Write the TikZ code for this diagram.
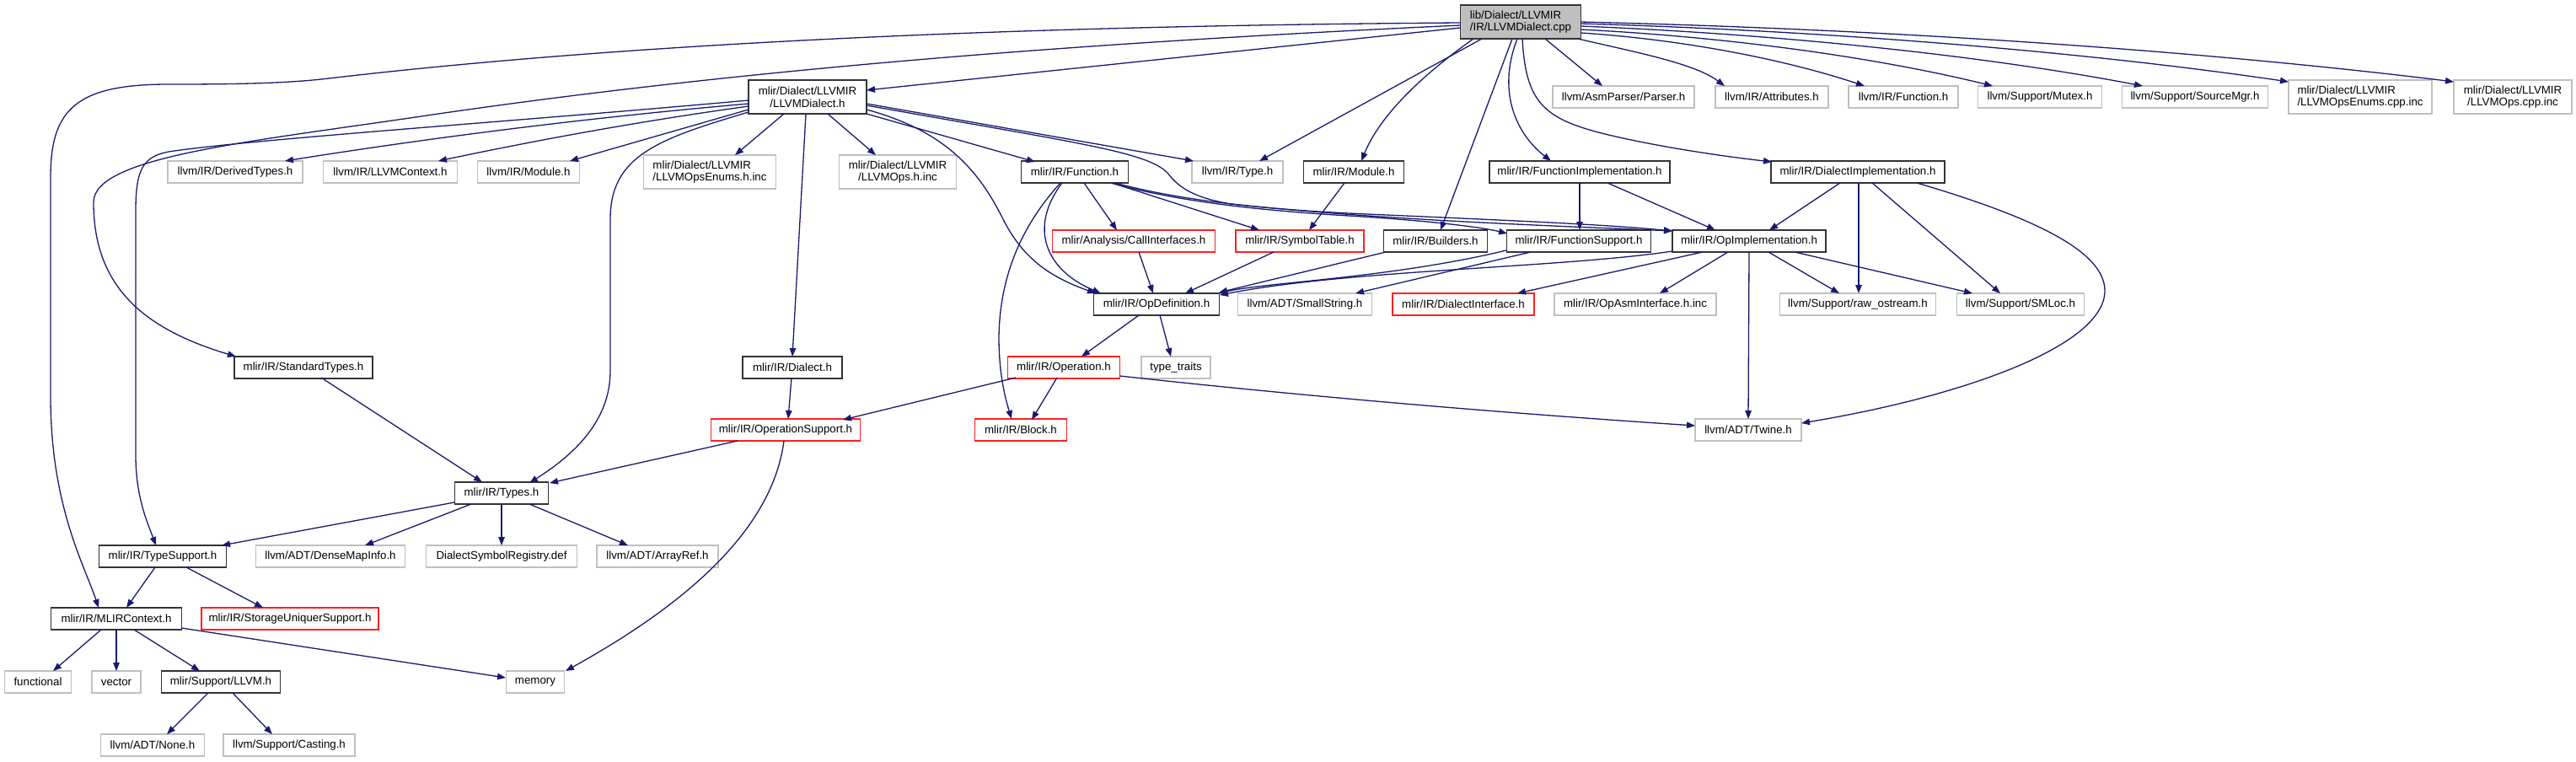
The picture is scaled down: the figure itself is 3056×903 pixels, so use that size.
\documentclass[tikz,border=0pt]{standalone}
\usepackage{fontspec}
\setmainfont{Liberation Sans}
\usetikzlibrary{arrows.meta}
\definecolor{edgeblue}{HTML}{191970}
\definecolor{boxgray}{HTML}{BFBFBF}
\definecolor{boxred}{HTML}{FF2020}
\newcommand{\edg}[4]{\draw[edge] ([shift={(#2)}]#1.center) -- ([shift={(#4)}]#3.center);}
\tikzset{
 nd/.style={rectangle, inner sep=0pt, line width=1.5pt, font=\fontsize{13.3}{14.6}\selectfont, align=center, fill=white, minimum height=26pt},
 blk/.style={nd, draw=black!80},
 gry/.style={nd, draw=boxgray},
 rdb/.style={nd, draw=boxred},
 rootbox/.style={nd, draw=black!80, fill=boxgray},
 edge/.style={draw=edgeblue, line width=1.3pt, -{Triangle[length=10pt,width=7.5pt]}},
}
\begin{document}
\begin{tikzpicture}[x=1pt,y=-1pt]
\useasboundingbox (0,0) rectangle (3056,903);
% ---------- nodes ----------
\node[rootbox, minimum width=143pt, minimum height=40pt, align=left] (cpp) at (1804,26) {lib/Dialect/LLVMIR\\/IR/LLVMDialect.cpp};
\node[blk, minimum width=140pt, minimum height=40pt] (ldh) at (958,115) {mlir/Dialect/LLVMIR\\/LLVMDialect.h};
\node[gry, minimum width=168pt] (parser) at (1926,115) {llvm/AsmParser/Parser.h};
\node[gry, minimum width=134pt] (attr) at (2102,115) {llvm/IR/Attributes.h};
\node[gry, minimum width=130pt] (lfunc) at (2258,115) {llvm/IR/Function.h};
\node[gry, minimum width=147pt] (mutex) at (2420,115) {llvm/Support/Mutex.h};
\node[gry, minimum width=173pt] (srcmgr) at (2604,115) {llvm/Support/SourceMgr.h};
\node[gry, minimum width=170pt, minimum height=40pt, align=left] (enumscpp) at (2800,115) {mlir/Dialect/LLVMIR\\/LLVMOpsEnums.cpp.inc};
\node[gry, minimum width=140pt, minimum height=40pt] (opscpp) at (2981,115) {mlir/Dialect/LLVMIR\\/LLVMOps.cpp.inc};

\node[gry, minimum width=160pt] (derived) at (279,204) {llvm/IR/DerivedTypes.h};
\node[gry, minimum width=159pt] (llctx) at (463,204) {llvm/IR/LLVMContext.h};
\node[gry, minimum width=121pt] (llmod) at (627,204) {llvm/IR/Module.h};
\node[gry, minimum width=157pt, minimum height=40pt, align=left] (opsenumh) at (842,204) {mlir/Dialect/LLVMIR\\/LLVMOpsEnums.h.inc};
\node[gry, minimum width=139pt, minimum height=40pt] (opsh) at (1065,204) {mlir/Dialect/LLVMIR\\/LLVMOps.h.inc};
\node[blk, minimum width=127pt] (func) at (1275,204) {mlir/IR/Function.h};
\node[gry, minimum width=108pt] (type) at (1468,204) {llvm/IR/Type.h};
\node[blk, minimum width=119pt] (mod) at (1606,204) {mlir/IR/Module.h};
\node[blk, minimum width=214pt] (fimpl) at (1874,204) {mlir/IR/FunctionImplementation.h};
\node[blk, minimum width=206pt] (dimpl) at (2204,204) {mlir/IR/DialectImplementation.h};

\node[rdb, minimum width=193pt] (callif) at (1345,286) {mlir/Analysis/CallInterfaces.h};
\node[rdb, minimum width=152pt] (symtab) at (1542,286) {mlir/IR/SymbolTable.h};
\node[blk, minimum width=123pt] (builders) at (1703,286) {mlir/IR/Builders.h};
\node[blk, minimum width=171pt] (fsupp) at (1873,286) {mlir/IR/FunctionSupport.h};
\node[blk, minimum width=182pt] (opimpl) at (2075,286) {mlir/IR/OpImplementation.h};

\node[blk, minimum width=149pt] (opdef) at (1372,361) {mlir/IR/OpDefinition.h};
\node[gry, minimum width=159pt] (smallstr) at (1548,361) {llvm/ADT/SmallString.h};
\node[rdb, minimum width=168pt] (dialif) at (1736,361) {mlir/IR/DialectInterface.h};
\node[gry, minimum width=192pt] (asmif) at (1940,361) {mlir/IR/OpAsmInterface.h.inc};
\node[gry, minimum width=185pt] (rawos) at (2204,361) {llvm/Support/raw\_ostream.h};
\node[gry, minimum width=151pt] (smloc) at (2397,361) {llvm/Support/SMLoc.h};

\node[blk, minimum width=164pt] (stdtypes) at (360,436) {mlir/IR/StandardTypes.h};
\node[blk, minimum width=118pt] (dialect) at (940,436) {mlir/IR/Dialect.h};
\node[rdb, minimum width=133pt] (operation) at (1262,436) {mlir/IR/Operation.h};
\node[gry, minimum width=82pt] (traits) at (1395,436) {type\_traits};

\node[rdb, minimum width=177pt] (opsupp) at (932,510) {mlir/IR/OperationSupport.h};
\node[rdb, minimum width=109pt] (block) at (1211,510) {mlir/IR/Block.h};
\node[gry, minimum width=126pt] (twine) at (2074,510) {llvm/ADT/Twine.h};

\node[blk, minimum width=111pt] (types) at (595,585) {mlir/IR/Types.h};

\node[blk, minimum width=151pt] (typesupp) at (193,660) {mlir/IR/TypeSupport.h};
\node[gry, minimum width=177pt] (densemap) at (392,660) {llvm/ADT/DenseMapInfo.h};
\node[gry, minimum width=179pt] (dsreg) at (595,660) {DialectSymbolRegistry.def};
\node[gry, minimum width=144pt] (arrayref) at (780,660) {llvm/ADT/ArrayRef.h};

\node[blk, minimum width=155pt] (mlirctx) at (138,734) {mlir/IR/MLIRContext.h};
\node[rdb, minimum width=210pt] (storage) at (344,734) {mlir/IR/StorageUniquerSupport.h};

\node[gry, minimum width=79pt] (functional) at (45,809) {functional};
\node[gry, minimum width=58pt] (vector) at (138,809) {vector};
\node[blk, minimum width=141pt] (llvmh) at (262,809) {mlir/Support/LLVM.h};
\node[gry, minimum width=69pt] (memory) at (635,809) {memory};

\node[gry, minimum width=123pt] (none) at (181,884) {llvm/ADT/None.h};
\node[gry, minimum width=156pt] (casting) at (343,884) {llvm/Support/Casting.h};

% ---------- edges from LLVMDialect.cpp ----------
\draw[edge] ([shift={(-71.5,1)}]cpp.center) .. controls (1300,30) and (800,45) .. (390,93)
  .. controls (340,99) and (280,100) .. (200,100) .. controls (90,100) and (60,130) .. (60,210)
  -- (60,470) .. controls (60,600) and (100,670) .. ([shift={(-21,-13)}]mlirctx.center);
\draw[edge] ([shift={(-71.5,4)}]cpp.center) .. controls (1300,50) and (900,80) .. (520,135)
  .. controls (300,168) and (111,185) .. (111,240) .. controls (111,340) and (170,390) .. ([shift={(-80,-13)}]stdtypes.center);
\edg{cpp}{-71.5,7}{ldh}{70,-8}
\edg{cpp}{-46,20}{type}{26,-13}
\draw[edge] ([shift={(-56,20)}]cpp.center) .. controls (1700,80) and (1640,130) .. ([shift={(9,-13)}]mod.center);
\edg{cpp}{-10,20}{builders}{6,-13}
\draw[edge] ([shift={(-4,20)}]cpp.center) .. controls (1775,110) and (1800,160) .. ([shift={(-34,-13)}]fimpl.center);
\draw[edge] ([shift={(2,20)}]cpp.center) .. controls (1810,120) and (1830,140) .. (1900,158)
  .. controls (1960,173) and (2040,185) .. ([shift={(-102,-12)}]dimpl.center);
\edg{cpp}{29,20}{parser}{-25,-13}
\draw[edge] ([shift={(68,20)}]cpp.center) .. controls (1940,62) and (2010,75) .. ([shift={(-56,-13)}]attr.center);
\draw[edge] ([shift={(71.5,13)}]cpp.center) .. controls (2010,48) and (2128,74) .. ([shift={(-46,-13)}]lfunc.center);
\draw[edge] ([shift={(71.5,9)}]cpp.center) .. controls (2071,45) and (2242,72) .. ([shift={(-56,-13)}]mutex.center);
\draw[edge] ([shift={(71.5,5)}]cpp.center) .. controls (2142,42) and (2375,70) .. ([shift={(-62,-13)}]srcmgr.center);
\draw[edge] ([shift={(71.5,2)}]cpp.center) .. controls (2211,38) and (2505,66) .. ([shift={(-85,-18)}]enumscpp.center);
\draw[edge] ([shift={(71.5,0)}]cpp.center) .. controls (2290,36) and (2652,65) .. ([shift={(-70,-18)}]opscpp.center);

% ---------- edges from LLVMDialect.h ----------
\draw[edge] ([shift={(-70,8)}]ldh.center) .. controls (705,139) and (520,162) .. ([shift={(59,-13)}]derived.center);
\draw[edge] ([shift={(-70,11)}]ldh.center) .. controls (765,143) and (643,165) .. ([shift={(57,-13)}]llctx.center);
\edg{ldh}{-70,15}{llmod}{49,-13}
\edg{ldh}{-28,20}{opsenumh}{30,-20}
\edg{ldh}{24,20}{opsh}{-26,-20}
\edg{ldh}{-2,20}{dialect}{0,-13}
\draw[edge] ([shift={(-70,4)}]ldh.center) .. controls (600,145) and (300,165) .. (200,180)
  .. controls (170,186) and (161,200) .. (161,250) -- (161,540) .. controls (161,590) and (175,620) .. ([shift={(-8,-13)}]typesupp.center);
\draw[edge] ([shift={(-70,18)}]ldh.center) .. controls (780,165) and (724,185) .. (724,260)
  -- (724,440) .. controls (724,500) and (680,540) .. ([shift={(33,-12)}]types.center);
\draw[edge] ([shift={(70,15)}]ldh.center) .. controls (1120,155) and (1160,200) .. (1190,260)
  .. controls (1215,310) and (1250,330) .. ([shift={(-72,-13)}]opdef.center);
\edg{ldh}{70,8}{type}{-52,-13}
\draw[edge] ([shift={(70,10)}]ldh.center) .. controls (1280,170) and (1360,180) .. (1385,205)
  .. controls (1400,225) and (1420,235) .. (1460,242) .. controls (1650,262) and (1850,268) .. ([shift={(-91,-12)}]opimpl.center);
\edg{ldh}{70,20}{func}{-47,-12}

% ---------- edges from mlir/IR/Function.h ----------
\edg{func}{11,13}{callif}{-20,-13}
\edg{func}{44,13}{symtab}{-48,-13}
\draw[edge] ([shift={(43,13)}]func.center) .. controls (1400,240) and (1500,250) .. (1600,256)
  .. controls (1700,262) and (1760,270) .. ([shift={(-85,-9)}]fsupp.center);
\draw[edge] ([shift={(48,13)}]func.center) .. controls (1400,238) and (1500,248) .. (1600,253)
  .. controls (1800,262) and (1900,266) .. ([shift={(-91,-12)}]opimpl.center);
\draw[edge] ([shift={(-15,13)}]func.center) .. controls (1220,270) and (1240,320) .. ([shift={(-66,-13)}]opdef.center);
\draw[edge] ([shift={(-17,13)}]func.center) .. controls (1210,270) and (1186,330) .. (1185,400)
  .. controls (1185,450) and (1195,480) .. ([shift={(-11,-13)}]block.center);

% ---------- middle layer ----------
\edg{mod}{-11,13}{symtab}{11,-13}
\edg{fimpl}{0,13}{fsupp}{1,-13}
\edg{fimpl}{33,13}{opimpl}{-40,-13}
\edg{dimpl}{-21,13}{opimpl}{24,-13}
\edg{dimpl}{1,13}{rawos}{1,-13}
\edg{dimpl}{17,13}{smloc}{-24,-13}
\draw[edge] ([shift={(70,13)}]dimpl.center) .. controls (2420,260) and (2497,300) .. (2497,345)
  .. controls (2497,410) and (2330,470) .. ([shift={(63,-8)}]twine.center);

\draw[edge] ([shift={(-91,12)}]opimpl.center) .. controls (1850,318) and (1600,320) .. ([shift={(75,-11)}]opdef.center);
\edg{opimpl}{-55,13}{dialif}{64,-13}
\edg{opimpl}{-25,13}{asmif}{29,-13}
\edg{opimpl}{0,13}{twine}{0,-13}
\edg{opimpl}{23,13}{rawos}{-22,-13}
\edg{opimpl}{54,13}{smloc}{-57,-13}

\draw[edge] ([shift={(-86,11)}]fsupp.center) .. controls (1650,330) and (1500,335) .. ([shift={(74,-13)}]opdef.center);
\edg{fsupp}{-57,13}{smallstr}{60,-13}
\edg{builders}{-59,13}{opdef}{74,-14}
\edg{symtab}{-31,13}{opdef}{34,-13}
\edg{callif}{6,13}{opdef}{-4,-13}

\edg{opdef}{-21,13}{operation}{21,-13}
\edg{opdef}{4,13}{traits}{-6,-13}

\edg{operation}{-57,12}{opsupp}{68,-12}
\edg{operation}{-8,12}{block}{13,-12}
\draw[edge] ([shift={(66.5,10)}]operation.center) .. controls (1556,471) and (1784,490) .. ([shift={(-63,-5)}]twine.center);
\edg{dialect}{-1,12}{opsupp}{3,-13}

% ---------- lower part ----------
\edg{opsupp}{-57,13}{types}{57,-12}
\draw[edge] ([shift={(-2,13)}]opsupp.center) .. controls (915,640) and (790,730) .. ([shift={(36,-13)}]memory.center);
\edg{stdtypes}{21,12}{types}{-23,-13}
\edg{types}{-56,11}{typesupp}{70,-13}
\edg{types}{-36,13}{densemap}{41,-13}
\edg{types}{0,13}{dsreg}{0,-13}
\edg{types}{33,13}{arrayref}{-35,-13}
\edg{typesupp}{-9,13}{mlirctx}{12,-13}
\edg{typesupp}{28,13}{storage}{-32,-13}
\edg{mlirctx}{-18,13}{functional}{18,-13}
\edg{mlirctx}{0,13}{vector}{0,-13}
\edg{mlirctx}{21,13}{llvmh}{-25,-13}
\edg{mlirctx}{77,11}{memory}{-35,-5}
\edg{llvmh}{-15,13}{none}{17,-13}
\edg{llvmh}{14,13}{casting}{-20,-13}
\end{tikzpicture}
\end{document}
